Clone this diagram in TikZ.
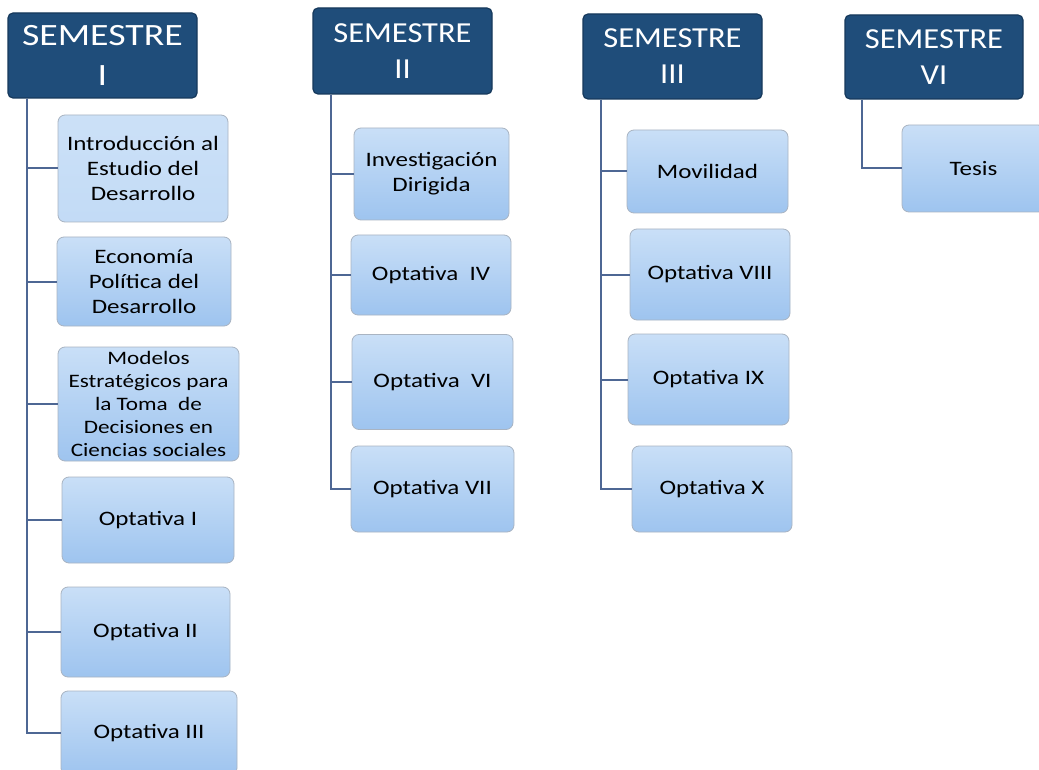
\documentclass[tikz,border=0pt]{standalone}
\usepackage{fontspec}
\setmainfont{Carlito}[FakeStretch=1.22]
\newfontfamily\hdrA{Carlito}[FakeStretch=1.22]
\newfontfamily\hdrB{Carlito}[FakeStretch=1.12]
\definecolor{hdrfill}{HTML}{1F4D7A}
\definecolor{hdredge}{HTML}{16395C}
\definecolor{hdrlight}{HTML}{4F78A3}
\definecolor{kidtop}{HTML}{C9DFF7}
\definecolor{kidbot}{HTML}{9EC4EF}
\definecolor{kidedge}{HTML}{A9B4C2}
\definecolor{connc}{HTML}{4E6794}
\tikzset{
  hdr/.style={draw=hdredge, line width=1.2pt, fill=hdrfill, rounded corners=5pt,
    text=white, align=center, inner sep=0pt},
  hdrI/.style={hdr, font=\hdrA\fontsize{31}{40}\selectfont},
  hdrN/.style={hdr, font=\hdrB\fontsize{29}{36}\selectfont},
  kid/.style={draw=kidedge, line width=0.8pt, top color=kidtop, bottom color=kidbot,
    rounded corners=7pt, align=center, inner sep=0pt, text=black,
    font=\fontsize{20.5}{25}\selectfont},
  kidflat/.style={kid, top color=kidtop!95!white, bottom color=kidtop!85!kidbot},
  conn/.style={draw=connc, line width=2pt}
}
\begin{document}
\begin{tikzpicture}[x=1pt,y=-1pt]
\clip (0,0) rectangle (1039,770);
\fill[white] (0,0) rectangle (1039,770);

% ---------- Semester I ----------
\node[hdrI, minimum width=189pt, minimum height=85pt] (H1) at (102.5,55.5) {SEMESTRE\\I};
\node[kidflat, minimum width=170pt, minimum height=107pt] (c11) at (143,168.5) {Introducción al\\Estudio del\\Desarrollo};
\node[kid, minimum width=174pt, minimum height=89pt] (c12) at (144,281.5) {Economía\\Política del\\Desarrollo};
\node[kid, minimum width=181pt, minimum height=114pt, font=\fontsize{19}{23}\selectfont] (c13) at (148.5,404) {Modelos\\Estratégicos para\\la Toma \ de\\Decisiones en\\Ciencias sociales};
\node[kid, minimum width=172pt, minimum height=86pt] (c14) at (148,520) {Optativa I};
\node[kid, minimum width=169pt, minimum height=90pt] (c15) at (145.5,632) {Optativa II};
\node[kid, minimum width=176pt, minimum height=84pt] (c16) at (149,733) {Optativa III};

% ---------- Semester II ----------
\node[hdrN, minimum width=179pt, minimum height=86pt] (H2) at (402.5,51) {SEMESTRE\\II};
\node[kid, minimum width=155pt, minimum height=92pt] (c21) at (431.5,174) {Investigación\\Dirigida};
\node[kid, minimum width=160pt, minimum height=80pt] (c22) at (431,275) {Optativa \ IV};
\node[kid, minimum width=161pt, minimum height=95pt] (c23) at (432.5,382) {Optativa \ VI};
\node[kid, minimum width=163pt, minimum height=86pt] (c24) at (432.5,489) {Optativa VII};

% ---------- Semester III ----------
\node[hdrN, minimum width=179pt, minimum height=85pt] (H3) at (672.5,56.5) {SEMESTRE\\III};
\node[kid, minimum width=161pt, minimum height=83pt] (c31) at (707.5,171.5) {Movilidad};
\node[kid, minimum width=160pt, minimum height=91pt] (c32) at (710,274.5) {Optativa VIII};
\node[kid, minimum width=161pt, minimum height=91pt] (c33) at (708.5,379.5) {Optativa IX};
\node[kid, minimum width=160pt, minimum height=86pt] (c34) at (712,489) {Optativa X};

% ---------- Semester VI ----------
\node[hdrN, minimum width=178pt, minimum height=84pt] (H4) at (934,57) {SEMESTRE\\VI};
\node[kid, minimum width=143pt, minimum height=87pt] (c41) at (973.5,168.5) {Tesis};

% ---------- connectors ----------
\foreach \c in {c11,c12,c13,c14,c15,c16}
  \draw[conn] (H1.south west) ++(20,0) |- (\c.west);
\foreach \c in {c21,c22,c23,c24}
  \draw[conn] (H2.south west) ++(19,0) |- (\c.west);
\foreach \c in {c31,c32,c33,c34}
  \draw[conn] (H3.south west) ++(19,0) |- (\c.west);
\draw[conn] (H4.south west) ++(18,0) |- (c41.west);
\end{tikzpicture}
\end{document}
